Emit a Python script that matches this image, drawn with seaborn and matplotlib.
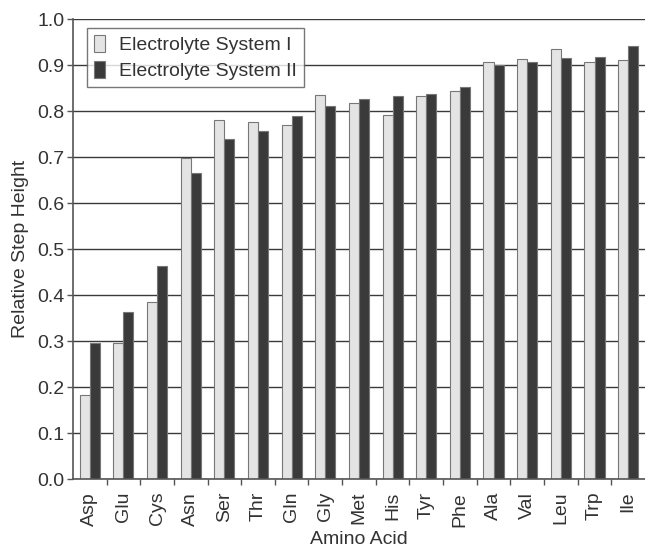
import matplotlib
matplotlib.use("Agg")
import matplotlib.pyplot as plt
import seaborn as sns
import pandas as pd
import numpy as np
from matplotlib.ticker import FixedLocator

amino_acids = ["Asp", "Glu", "Cys", "Asn", "Ser", "Thr", "Gln", "Gly", "Met",
               "His", "Tyr", "Phe", "Ala", "Val", "Leu", "Trp", "Ile"]
system_1 = [0.184, 0.297, 0.385, 0.698, 0.782, 0.777, 0.770, 0.835, 0.817,
            0.792, 0.833, 0.843, 0.907, 0.913, 0.936, 0.906, 0.912]
system_2 = [0.297, 0.363, 0.464, 0.666, 0.740, 0.757, 0.790, 0.812, 0.826,
            0.834, 0.838, 0.853, 0.900, 0.908, 0.915, 0.918, 0.942]
series_names = ["Electrolyte System I", "Electrolyte System II"]
y_ticks = [0.0, 0.1, 0.2, 0.3, 0.4, 0.5, 0.6, 0.7, 0.8, 0.9, 1.0]

df = pd.DataFrame({
    "Amino Acid": amino_acids * 2,
    "value": system_1 + system_2,
    "System": [series_names[0]] * len(amino_acids) + [series_names[1]] * len(amino_acids),
})

sns.set_theme(style="white")
plt.rcParams["font.family"] = ["Liberation Sans", "DejaVu Sans"]

FS = 14
fig = plt.figure(figsize=(6.45, 5.49), dpi=100)
ax = fig.add_axes([0.113, 0.127, 0.887, 0.838])

ax.yaxis.grid(True, color="#3a3a3a", linewidth=1.0)
ax.set_axisbelow(True)

sns.barplot(data=df, x="Amino Acid", y="value", hue="System",
            palette=["#e4e4e4", "#3a3a3a"], width=0.6, ax=ax,
            edgecolor="#777777", linewidth=0.8, saturation=1)

ax.set_ylim(0, 1.0)
ax.set_xlim(-0.5, len(amino_acids) - 0.5)
ax.set_yticks(y_ticks)
ax.set_yticklabels([f"{v:.1f}" for v in y_ticks], fontsize=FS, color="#333333")
ax.set_xticks(range(len(amino_acids)))
ax.set_xticklabels(amino_acids, rotation=90, fontsize=FS, color="#333333")
ax.tick_params(axis="x", which="major", length=0, pad=9)
ax.xaxis.set_minor_locator(FixedLocator(np.arange(0.5, len(amino_acids) - 0.5, 1)))
ax.tick_params(axis="x", which="minor", length=4, color="#555555", width=1, bottom=True)
ax.tick_params(axis="y", which="major", length=4, color="#555555", width=1, left=True, pad=2)

for s in ["top", "right"]:
    ax.spines[s].set_visible(False)
for s in ["left", "bottom"]:
    ax.spines[s].set_color("#555555")
    ax.spines[s].set_linewidth(1.2)

ax.set_xlabel("Amino Acid", fontsize=FS, color="#333333", labelpad=3)
ax.set_ylabel("Relative Step Height", fontsize=FS, color="#333333", labelpad=6)

leg = ax.legend(loc="upper left", bbox_to_anchor=(0.0245, 0.981), borderaxespad=0,
                fontsize=FS, frameon=True, fancybox=False, edgecolor="#555555",
                handlelength=0.6, handleheight=1.0, handletextpad=0.7,
                borderpad=0.35, labelspacing=0.35, labelcolor="#333333")
leg.get_frame().set_linewidth(1.0)

fig.savefig("out.png", dpi=100)
